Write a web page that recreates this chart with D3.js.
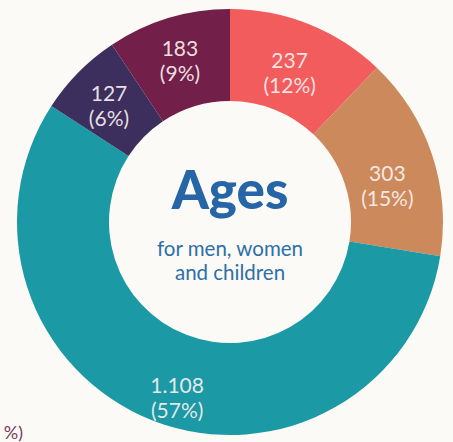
<!DOCTYPE html>
<html>
<head>
<meta charset="utf-8">
<script src="https://cdn.jsdelivr.net/npm/d3@7"></script>
<style>
  html, body { margin: 0; padding: 0; background: #fbfaf6; }
  svg { display: block; }
  .slice-label { font-family: "Lato", "Open Sans", sans-serif; font-size: 21px; fill: #fbf1f1; fill-opacity: 0.92; }
  .sub { font-family: "Lato", "Open Sans", sans-serif; font-size: 20.5px; fill: #2e6fa8; }
</style>
</head>
<body>
<div id="chart"></div>
<script>
// groups, clockwise from 12 o'clock
const categories = ['237', '303', '1.108', '127', '183'];
const values = [237, 303, 1108, 127, 183];
const percents = ['12%', '15%', '57%', '6%', '9%'];
const colors = ['#f25c5c', '#cc8a5c', '#1b99a4', '#3c2f5e', '#72204a'];

const width = 453;
const height = 442;
const cx = 230, cy = 222;
const outerR = 213, innerR = 121;

// small manual nudges so labels sit where the print puts them
const nudge = [[-2, 4], [0, 16], [7, 20], [-3, 0], [-2, -3]];

const svg = d3.select('#chart')
  .append('svg')
    .attr('width', width)
    .attr('height', height);

const g = svg.append('g').attr('transform', `translate(${cx},${cy})`);

const pie = d3.pie().sort(null).value(d => d);
const arcs = pie(values);

const arc = d3.arc().innerRadius(innerR).outerRadius(outerR);
const labelArc = d3.arc().innerRadius(166).outerRadius(166);

g.selectAll('.slice')
  .data(arcs)
  .enter().append('path')
    .attr('class', 'slice')
    .attr('d', arc)
    .attr('fill', (d, i) => colors[i]);

const labels = g.selectAll('.slice-label')
  .data(arcs)
  .enter().append('text')
    .attr('class', 'slice-label')
    .attr('text-anchor', 'middle')
    .attr('transform', (d, i) => {
      const c = labelArc.centroid(d);
      return `translate(${c[0] + nudge[i][0]},${c[1] + nudge[i][1]})`;
    });

labels.append('tspan')
  .attr('x', 0).attr('y', -4)
  .text((d, i) => categories[i]);
labels.append('tspan')
  .attr('x', 0).attr('y', 21)
  .text((d, i) => `(${percents[i]})`);

// centre title
g.append('text')
  .attr('text-anchor', 'middle')
  .attr('y', -13)
  .style('font-family', 'Lato, "Open Sans", sans-serif')
  .style('font-weight', '900')
  .style('font-size', '53px')
  .style('fill', '#2666a6')
  .text('Ages');

g.append('text')
  .attr('class', 'sub')
  .attr('text-anchor', 'middle')
  .attr('y', 34)
  .text('for men, women');

g.append('text')
  .attr('class', 'sub')
  .attr('text-anchor', 'middle')
  .attr('y', 58)
  .text('and children');

// cut-off fragment from the neighbouring graphic
svg.append('text')
  .attr('x', 23).attr('y', 439)
  .attr('text-anchor', 'end')
  .style('font-family', 'Lato, "Open Sans", sans-serif')
  .style('font-size', '18px')
  .style('fill', '#7a3a5a')
  .text('%)');
</script>
</body>
</html>
